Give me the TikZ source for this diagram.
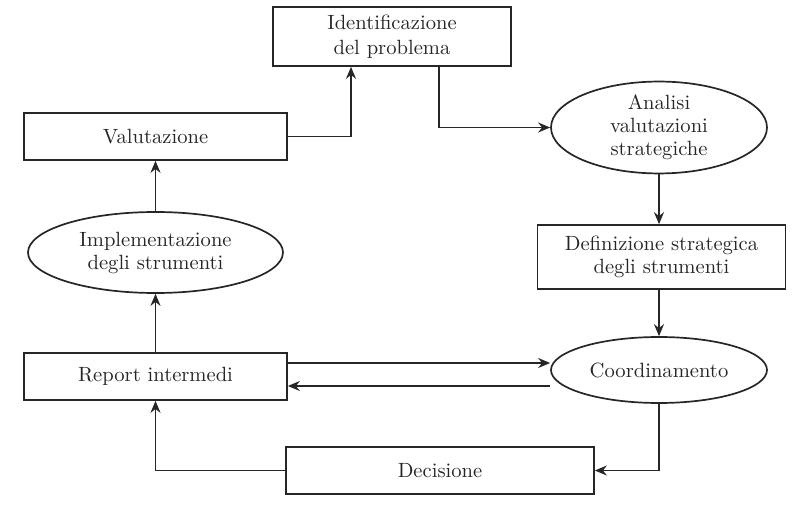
\documentclass[tikz,border=0pt]{standalone}
\usepackage{tikz}
\usetikzlibrary{shapes,arrows,arrows.meta}
\tikzstyle{arrow} = [->,>={Stealth[length=6pt,width=5pt]}]
\tikzstyle{box} = [draw, rectangle, inner sep=0pt, align=center]
\tikzstyle{oval} = [draw, ellipse, inner sep=0pt, align=center]

\begin{document}
\begin{tikzpicture}[x=0.5pt, y=-0.5pt, line width=0.85pt, color=black!85,
    font=\fontsize{10.3}{11.5}\selectfont]
        % Bounding box
        \useasboundingbox (0,0) rectangle (799,519);

        % Nodes
        \node[box, minimum width=119pt, minimum height=29.5pt, font=\fontsize{10.3}{12.5}\selectfont] (ident) at (392,36.5) {Identificazione\\del problema};
        \node[box, minimum width=131.5pt, minimum height=23.5pt] (valut) at (155.5,136.5) {Valutazione};
        \node[oval, minimum width=108pt, minimum height=45.5pt] (analisi) at (659,127.5) {Analisi\\valutazioni\\strategiche};
        \node[box, minimum width=124pt, minimum height=32pt] (defin) at (661.5,257) {Definizione strategica\\degli strumenti};
        \node[oval, minimum width=127.5pt, minimum height=40.5pt] (implem) at (155.5,252.5) {Implementazione\\degli strumenti};
        \node[oval, minimum width=108pt, minimum height=33pt] (coord) at (659,370) {Coordinamento};
        \node[box, minimum width=131.5pt, minimum height=23.5pt] (report) at (155.5,376.5) {Report intermedi};
        \node[box, minimum width=154pt, minimum height=23.5pt] (decis) at (440,470.5) {Decisione};

        % Edges
        \draw[arrow] (valut.east) -| ([xshift=-20.5pt]ident.south);
        \draw[arrow] ([xshift=23.5pt]ident.south) |- (analisi.west);
        \draw[arrow] (analisi) -- (analisi |- defin.north);
        \draw[arrow] (coord |- defin.south) -- (coord);
        \draw[arrow] ([yshift=6.75pt]report.east) -- ([yshift=6.75pt]report.east -| coord.west);
        \draw[arrow] ([yshift=-4.75pt]report.east -| coord.west) -- ([yshift=-4.75pt]report.east);
        \draw[arrow] (coord) |- (decis);
        \draw[arrow] (decis) -| (report);
        \draw[arrow] (report) -- (implem);
        \draw[arrow] (implem) -- (valut);

    \end{tikzpicture}
\end{document}
